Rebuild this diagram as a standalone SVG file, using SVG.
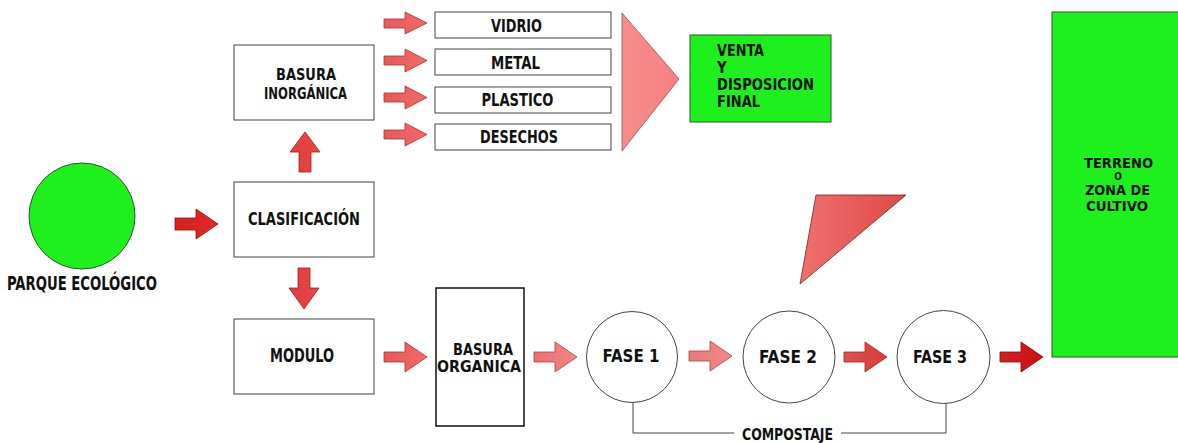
<svg xmlns="http://www.w3.org/2000/svg" width="1178" height="443" viewBox="0 0 1178 443">
<style>
text{font-family:"Liberation Sans Narrow","DejaVu Sans Condensed","Liberation Sans",sans-serif;font-weight:bold;fill:#111;font-stretch:condensed}
.box{fill:#fff;stroke:#444;stroke-width:1}
.grn{fill:#1ef01e;stroke:#2a5a2a;stroke-width:1}
.circ{fill:#fff;stroke:#444;stroke-width:1}
.m{text-anchor:middle}
.line{fill:none;stroke:#444;stroke-width:1}
</style>
<defs>
<linearGradient id="gDark" x1="0" y1="0" x2="1" y2="0"><stop offset="0" stop-color="#d82020"/><stop offset="1" stop-color="#e02828"/></linearGradient>
<linearGradient id="gRed" x1="0" y1="0" x2="1" y2="0"><stop offset="0" stop-color="#e03c3c"/><stop offset="1" stop-color="#e84848"/></linearGradient>
<linearGradient id="gSal" x1="0" y1="0" x2="1" y2="0"><stop offset="0" stop-color="#e85a5a"/><stop offset="1" stop-color="#f26868"/></linearGradient>
<linearGradient id="gPink" x1="0" y1="0" x2="1" y2="0"><stop offset="0" stop-color="#ee7070"/><stop offset="1" stop-color="#f48484"/></linearGradient>
<linearGradient id="gLight" x1="0" y1="0" x2="1" y2="0"><stop offset="0" stop-color="#e87a7a"/><stop offset="1" stop-color="#f08a8a"/></linearGradient>
<linearGradient id="gMid" x1="0" y1="0" x2="1" y2="0"><stop offset="0" stop-color="#e05050"/><stop offset="1" stop-color="#d83a3a"/></linearGradient>
<linearGradient id="gDeep" x1="0" y1="0" x2="1" y2="0"><stop offset="0" stop-color="#d42020"/><stop offset="1" stop-color="#cc1010"/></linearGradient>
<linearGradient id="gTri" x1="0" y1="0" x2="1" y2="0"><stop offset="0" stop-color="#f98c8c"/><stop offset="1" stop-color="#f48080"/></linearGradient>
<linearGradient id="gTri2" x1="0" y1="0" x2="1" y2="0"><stop offset="0" stop-color="#f07070"/><stop offset="1" stop-color="#e04848"/></linearGradient>
</defs>

<g id="parque">
<circle cx="82" cy="216" r="53" class="grn"/>
<text x="82" y="290" class="m" font-size="20" textLength="150" lengthAdjust="spacingAndGlyphs">PARQUE ECOLÓGICO</text>
</g>

<g id="clasificacion">
<rect x="234" y="182" width="140" height="75" class="box"/>
<text x="304" y="225" class="m" font-size="18" textLength="112" lengthAdjust="spacingAndGlyphs">CLASIFICACIÓN</text>
</g>

<g id="basura-inorganica">
<rect x="234" y="45" width="140" height="75" class="box"/>
<text x="306" y="80" class="m" font-size="16.5" textLength="60" lengthAdjust="spacingAndGlyphs">BASURA</text>
<text x="305.5" y="99" class="m" font-size="16.5" textLength="83" lengthAdjust="spacingAndGlyphs">INORGÁNICA</text>
</g>

<g id="modulo">
<rect x="234" y="319" width="140" height="75" class="box"/>
<text x="302" y="362" class="m" font-size="19" textLength="64" lengthAdjust="spacingAndGlyphs">MODULO</text>
</g>

<g id="vidrio">
<rect x="435" y="12" width="176" height="26" class="box"/>
<text x="516.5" y="32" class="m" font-size="17" textLength="51" lengthAdjust="spacingAndGlyphs">VIDRIO</text>
</g>
<g id="metal">
<rect x="435" y="49" width="176" height="26" class="box"/>
<text x="515.5" y="69" class="m" font-size="17" textLength="49" lengthAdjust="spacingAndGlyphs">METAL</text>
</g>
<g id="plastico">
<rect x="435" y="87" width="176" height="26" class="box"/>
<text x="517.5" y="106" class="m" font-size="17" textLength="72" lengthAdjust="spacingAndGlyphs">PLASTICO</text>
</g>
<g id="desechos">
<rect x="435" y="124" width="176" height="26" class="box"/>
<text x="519" y="143" class="m" font-size="17" textLength="78" lengthAdjust="spacingAndGlyphs">DESECHOS</text>
</g>

<g id="venta">
<rect x="690" y="35" width="141" height="87" class="grn"/>
<text x="717" y="56" font-size="15" textLength="47" lengthAdjust="spacingAndGlyphs">VENTA</text>
<text x="717" y="73" font-size="15">Y</text>
<text x="717" y="90" font-size="15" textLength="97" lengthAdjust="spacingAndGlyphs">DISPOSICION</text>
<text x="717" y="107" font-size="15" textLength="43" lengthAdjust="spacingAndGlyphs">FINAL</text>
</g>

<g id="basura-organica">
<rect x="436" y="288" width="88" height="138" fill="#fff" stroke="#111" stroke-width="1.5"/>
<text x="483" y="355" class="m" font-size="16" textLength="60" lengthAdjust="spacingAndGlyphs">BASURA</text>
<text x="479" y="372" class="m" font-size="16" textLength="84" lengthAdjust="spacingAndGlyphs">ORGANICA</text>
</g>

<g id="fase1">
<circle cx="632" cy="357" r="45.5" class="circ"/>
<text x="631" y="362" class="m" font-size="18" textLength="57" lengthAdjust="spacingAndGlyphs">FASE 1</text>
</g>
<g id="fase2">
<circle cx="789" cy="357" r="46" class="circ"/>
<text x="788" y="363" class="m" font-size="18" textLength="58" lengthAdjust="spacingAndGlyphs">FASE 2</text>
</g>
<g id="fase3">
<circle cx="943.5" cy="357" r="46.5" class="circ"/>
<text x="940" y="363" class="m" font-size="18" textLength="54" lengthAdjust="spacingAndGlyphs">FASE 3</text>
</g>

<g id="terreno">
<rect x="1052" y="12" width="130" height="345" class="grn"/>
<text x="1118.5" y="168" class="m" font-size="14.5" textLength="69" lengthAdjust="spacingAndGlyphs">TERRENO</text>
<text x="1118" y="180" class="m" font-size="10">O</text>
<text x="1117.5" y="195" class="m" font-size="14.5" textLength="65" lengthAdjust="spacingAndGlyphs">ZONA DE</text>
<text x="1117" y="211" class="m" font-size="14.5" textLength="62" lengthAdjust="spacingAndGlyphs">CULTIVO</text>
</g>

<g id="connectors" stroke-width="0.8" stroke-linejoin="miter">
<path d="M175 218 H196 V209 L218 224 L196 239 V230 H175 Z" fill="url(#gDark)" stroke="#8a1010"/>
<path d="M299 172 V152 H290 L305 132 L320 152 H311 V172 Z" fill="url(#gRed)" stroke="#9a2020"/>
<path d="M298 268 V288 H289 L304 309 L319 288 H310 V268 Z" fill="url(#gRed)" stroke="#9a2020"/>
<path d="M384 19 H405 V12 L427 23 L405 34 V28 H384 Z" fill="url(#gSal)" stroke="#a33"/>
<path d="M384 56 H405 V49 L427 60.5 L405 72 V65 H384 Z" fill="url(#gSal)" stroke="#a33"/>
<path d="M384 93 H405 V86 L427 97.5 L405 109 V102 H384 Z" fill="url(#gSal)" stroke="#a33"/>
<path d="M384 130 H405 V123 L427 134.5 L405 146 V139 H384 Z" fill="url(#gSal)" stroke="#a33"/>
<path d="M622 13 L679 79 L622 151 Z" fill="url(#gTri)" stroke="#8a5555"/>
<path d="M384 352 H405 V342 L427 357 L405 372 V362 H384 Z" fill="url(#gSal)" stroke="#a33"/>
<path d="M534 352 H555 V342 L577 357 L555 372 V362 H534 Z" fill="url(#gPink)" stroke="#a44"/>
<path d="M689 351 H710 V341 L732 356 L710 371 V361 H689 Z" fill="url(#gLight)" stroke="#a44"/>
<path d="M844 352 H865 V342 L887 357 L865 372 V362 H844 Z" fill="url(#gMid)" stroke="#a22"/>
<path d="M1000 352 H1021 V342 L1043 357 L1021 372 V362 H1000 Z" fill="url(#gDeep)" stroke="#8a0a0a"/>
<path d="M816 195 L906 195 L800 284 Z" fill="url(#gTri2)" stroke="#6a2a2a"/>
<path d="M633 403 V433 H734 M841 433 H946 V403" class="line"/>
<text x="787.5" y="440" class="m" font-size="16" textLength="91" lengthAdjust="spacingAndGlyphs" stroke="none">COMPOSTAJE</text>
</g>
</svg>
